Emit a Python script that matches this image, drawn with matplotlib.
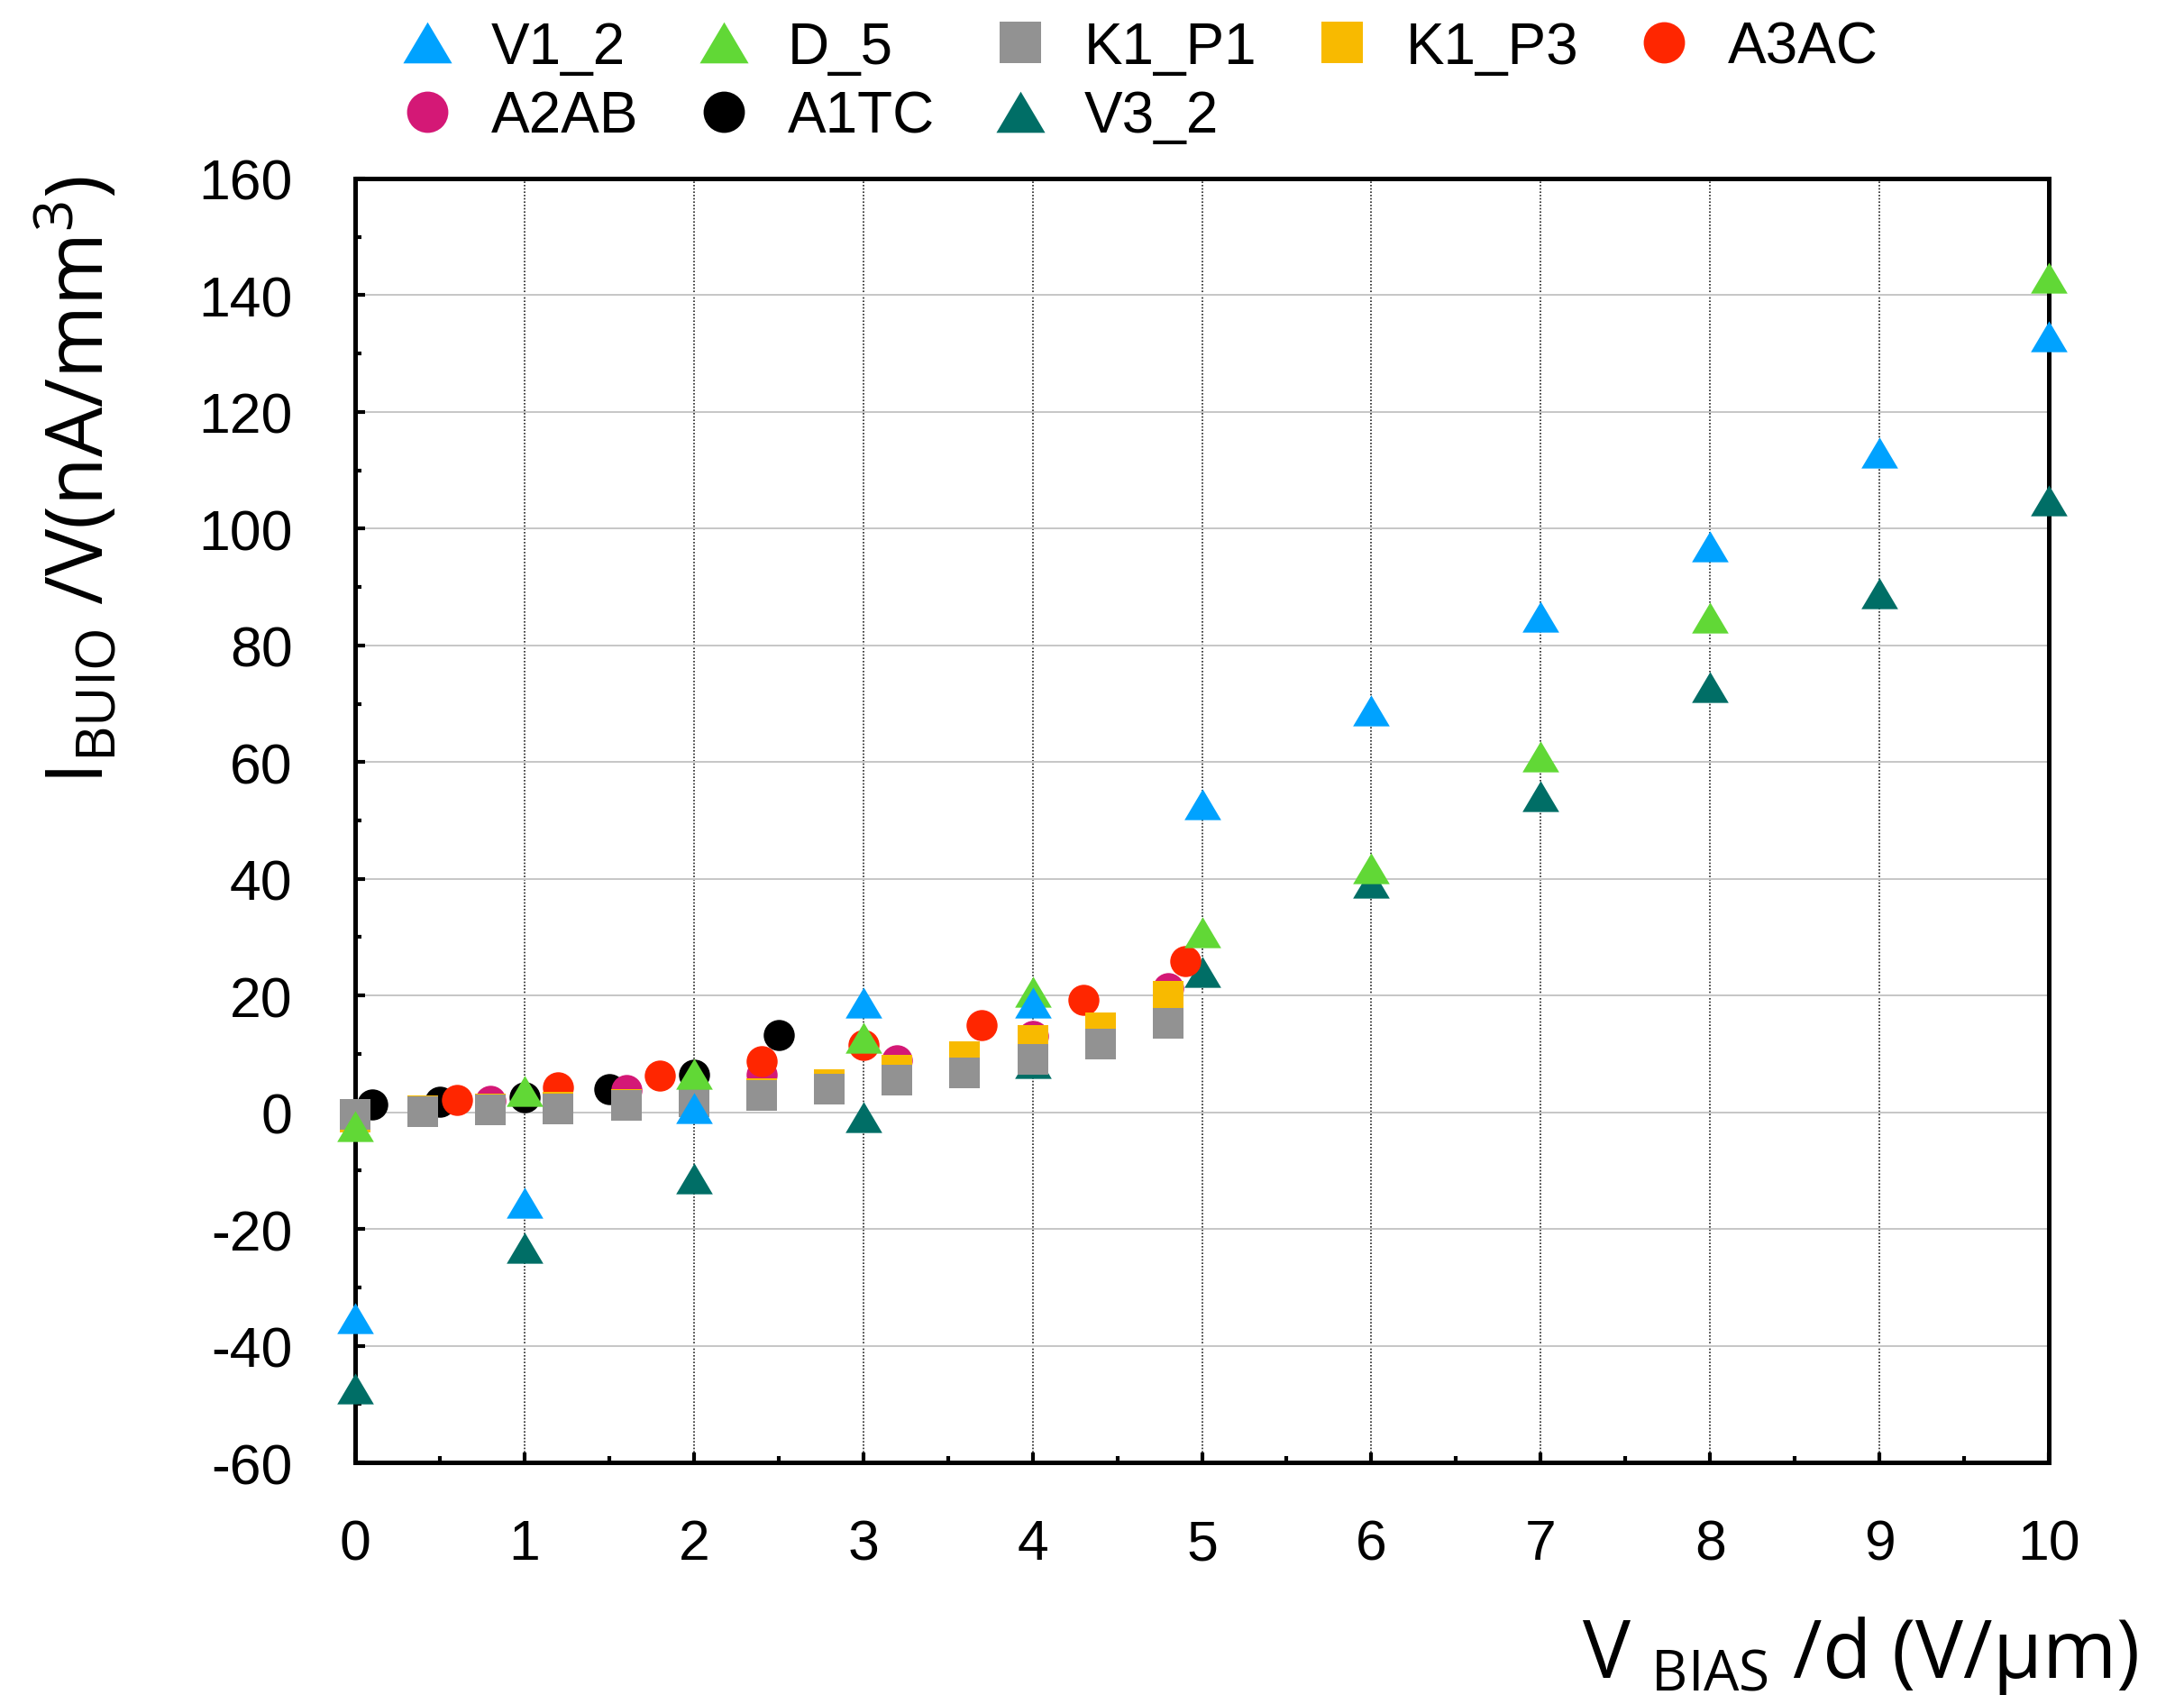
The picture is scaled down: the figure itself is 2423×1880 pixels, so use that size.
import matplotlib
matplotlib.use("Agg")
import matplotlib.pyplot as plt
from matplotlib.ticker import MultipleLocator, FuncFormatter

plt.rcParams["font.family"] = ["Liberation Sans", "DejaVu Sans"]
plt.rcParams["axes.unicode_minus"] = False
plt.rcParams["mathtext.default"] = "regular"

# ---- data -------------------------------------------------------------
x_field = [0, 1, 2, 3, 4, 5, 6, 7, 8, 9, 10]
v1_2 = [-35.3, -15.5, 0.7, 18.8, 18.8, 52.8, 68.9, 84.9, 96.9, 113.0, 132.9]
v3_2 = [-47.3, -23.2, -11.4, -0.8, 8.5, 24.0, 39.3, 54.1, 72.8, 88.9, 104.9]
d5_x = [0, 1, 2, 3, 4, 5, 6, 7, 8, 10]
d_5 = [-2.4, 3.6, 6.6, 12.8, 20.7, 30.8, 41.8, 60.9, 84.8, 143.0]
k1_x = [0, 0.4, 0.8, 1.2, 1.6, 2.0, 2.4, 2.8, 3.2, 3.6, 4.0, 4.4, 4.8]
k1_p1 = [-0.3, 0.1, 0.45, 0.6, 1.2, 1.75, 2.9, 3.9, 5.45, 6.8, 9.05, 11.7, 15.2]
k1_p3 = [-0.8, 0.3, 0.6, 0.9, 1.4, 2.0, 3.2, 4.8, 7.15, 9.5, 12.25, 14.45, 19.8]
a3ac_x = [0.6, 1.2, 1.8, 2.4, 3.0, 3.7, 4.3, 4.9]
a3ac = [2.1, 4.3, 6.3, 8.7, 11.5, 15.0, 19.25, 25.85]
a2ab_x = [0.8, 1.6, 2.4, 3.2, 4.0, 4.8]
a2ab = [1.95, 3.75, 6.4, 8.9, 13.1, 21.25]
a1tc_x = [0.1, 0.5, 1.0, 1.5, 2.0, 2.5]
a1tc = [1.3, 1.75, 2.5, 3.9, 6.4, 13.3]

labels = ["V1_2", "D_5", "K1_P1", "K1_P3", "A3AC", "A2AB", "A1TC", "V3_2"]
colors = ["#00a2ff", "#61d836", "#929292", "#f8ba00", "#ff2600",
          "#d41876", "#000000", "#006e66"]

# wide, flat triangle marker
TRI = [(0, 0.843), (-1, -0.843), (1, -0.843)]
shapes = {"tri": (TRI, 29.3), "sq": ("s", 24.8), "ci": ("o", 24.8)}

series = [
    (x_field, v1_2, "tri"),
    (d5_x, d_5, "tri"),
    (k1_x, k1_p1, "sq"),
    (k1_x, k1_p3, "sq"),
    (a3ac_x, a3ac, "ci"),
    (a2ab_x, a2ab, "ci"),
    (a1tc_x, a1tc, "ci"),
    (x_field, v3_2, "tri"),
]

fig = plt.figure(figsize=(24.23, 18.81), dpi=100)
ax = fig.add_axes([0.16261, 0.13716, 0.93810 - 0.16261, 0.89421 - 0.13716])

handles = [None] * len(series)
n = len(series)
for i in reversed(range(n)):
    xs, ys, kind = series[i]
    mk, ms = shapes[kind]
    (h,) = ax.plot(xs, ys, linestyle="none", marker=mk, markersize=ms,
                   markerfacecolor=colors[i], markeredgewidth=0,
                   color=colors[i], label=labels[i], clip_on=False,
                   zorder=3 + (n - i))
    handles[i] = h

ax.set_xlim(0, 10)
ax.set_ylim(-60, 160)
ax.xaxis.set_major_locator(MultipleLocator(1))
ax.xaxis.set_minor_locator(MultipleLocator(0.5))
ax.yaxis.set_major_locator(MultipleLocator(20))
ax.yaxis.set_minor_locator(MultipleLocator(10))
ax.yaxis.set_major_formatter(FuncFormatter(lambda v, p: "%d" % round(v)))
ax.xaxis.set_major_formatter(FuncFormatter(lambda v, p: "%d" % round(v)))

ax.tick_params(which="both", direction="in", top=False, right=False,
               width=3, color="black")
ax.tick_params(which="major", length=8, labelsize=45)
ax.tick_params(which="minor", length=5)
ax.tick_params(axis="y", which="major", pad=50)
ax.tick_params(axis="x", which="major", pad=44)

ax.set_axisbelow(True)
ax.yaxis.grid(True, which="major", color="#c6c6c6", linewidth=1.4)
ax.xaxis.grid(True, which="major", color="#222222", linewidth=1.2,
              linestyle=(0, (1, 1.2)))

for s in ax.spines.values():
    s.set_linewidth(3.6)
    s.set_color("black")

# axis titles
fig.text(0.979, 1 - 1860.7 / 1881,
         "V $_{\\mathregular{BIAS}}$ /d (V/μm)",
         fontsize=64, family="Open Sans", ha="right", va="baseline")
fig.text(115 / 2423, 1 - 533 / 1881,
         "I$_{\\mathregular{BUIO}}$ /V(nA/mm$^{\\mathregular{3}}$)",
         fontsize=63, family="Open Sans", rotation=90,
         rotation_mode="anchor", ha="center", va="baseline")

# legend laid out row by row (matplotlib fills columns first)
order = [0, 5, 1, 6, 2, 7, 3, 4]
fig.legend([handles[k] for k in order], [labels[k] for k in order],
           ncol=5, loc="upper left",
           bbox_to_anchor=(442.5 / 2423, 1 - 23.5 / 1881),
           frameon=False, fontsize=46, markerscale=1.33,
           handlelength=1.0, handletextpad=0.60, columnspacing=0.99,
           labelspacing=0.26, borderpad=0, borderaxespad=0)

fig.savefig("out.png", dpi=100)
